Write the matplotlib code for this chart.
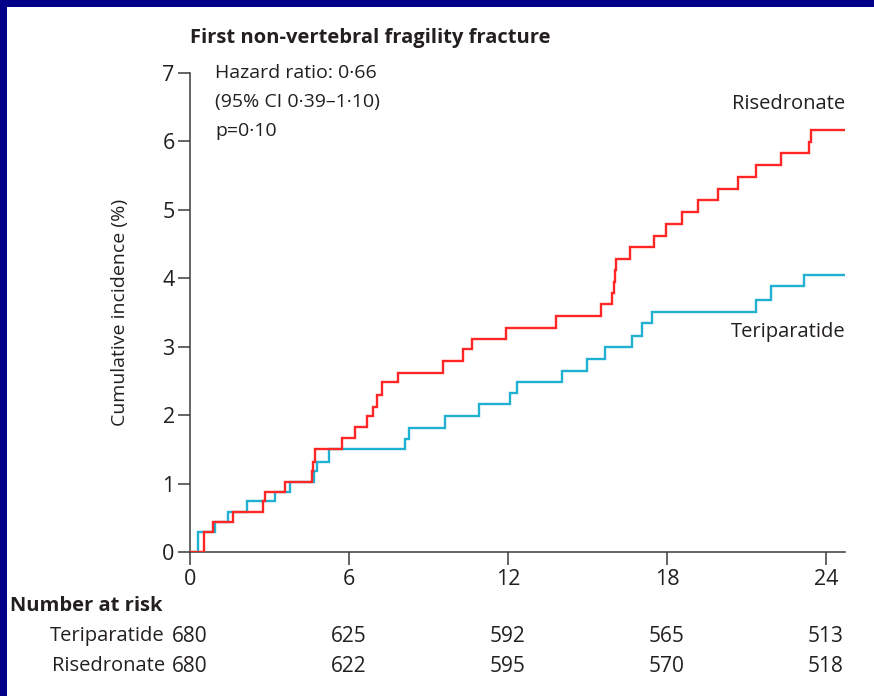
import matplotlib
matplotlib.use("Agg")
import matplotlib.pyplot as plt
from matplotlib.patches import Rectangle

# Kaplan-Meier style cumulative incidence (%) step data, months
teri_t = [0, 0.31, 0.94, 1.45, 2.14, 3.20, 3.77, 4.68, 4.78, 5.26, 8.11, 8.26,
          9.62, 10.92, 12.08, 12.35, 14.03, 15.00, 15.68, 16.67, 17.04, 17.45,
          21.36, 21.91, 23.18]
teri_y = [0, 0.29, 0.44, 0.59, 0.74, 0.88, 1.03, 1.18, 1.32, 1.50, 1.65, 1.81,
          1.99, 2.16, 2.33, 2.48, 2.65, 2.82, 2.99, 3.16, 3.34, 3.51,
          3.68, 3.88, 4.05]

rise_t = [0, 0.54, 0.88, 1.61, 2.74, 2.83, 3.58, 4.59, 4.66, 4.72, 5.72, 6.23,
          6.67, 6.92, 7.04, 7.23, 7.84, 9.56, 10.31, 10.63, 11.91, 13.81, 15.53,
          15.91, 16.00, 16.05, 16.08, 16.60, 17.51, 17.96, 18.55, 19.18, 19.94,
          20.69, 21.36, 22.29, 23.35, 23.42]
rise_y = [0, 0.29, 0.44, 0.59, 0.74, 0.88, 1.03, 1.18, 1.32, 1.50, 1.67, 1.82,
          1.99, 2.12, 2.30, 2.48, 2.62, 2.79, 2.96, 3.11, 3.28, 3.45, 3.63,
          3.79, 3.95, 4.12, 4.28, 4.45, 4.62, 4.80, 4.97, 5.14, 5.31,
          5.48, 5.65, 5.83, 5.99, 6.17]

x_end = 24.72
x_ticks = [0, 6, 12, 18, 24]
y_ticks = [0, 1, 2, 3, 4, 5, 6, 7]

risk_groups = ["Teriparatide", "Risedronate"]
risk_teri = [680, 625, 592, 565, 513]
risk_rise = [680, 622, 595, 570, 518]

title = "First non-vertebral fragility fracture"
stats_lines = ["Hazard ratio: 0\u00b766", "(95% CI 0\u00b739\u20131\u00b710)", "p=0\u00b710"]

RED = "#ff2626"
BLUE = "#1fb0d2"
INK = "#231f20"
NAVY = "#00008b"

plt.rcParams["font.family"] = ["Open Sans", "DejaVu Sans"]

W, H = 874, 696
fig = plt.figure(figsize=(W / 100, H / 100), dpi=100)
fig.patch.set_facecolor("white")

# navy frame along the top and left edges
fig.add_artist(Rectangle((0, 1 - 7 / H), 1, 7 / H, transform=fig.transFigure,
                         color=NAVY, lw=0, zorder=10))
fig.add_artist(Rectangle((0, 0), 7 / W, 1, transform=fig.transFigure,
                         color=NAVY, lw=0, zorder=10))

left, right, top, bottom = 190, 845, 73, 552
ax = fig.add_axes([left / W, 1 - bottom / H, (right - left) / W, (bottom - top) / H])

ax.step(teri_t + [x_end], teri_y + [teri_y[-1]], where="post", color=BLUE, lw=1.7,
        solid_joinstyle="miter", zorder=3)
ax.step(rise_t + [x_end], rise_y + [rise_y[-1]], where="post", color=RED, lw=1.7,
        solid_joinstyle="miter", zorder=4)

ax.set_xlim(0, x_end)
ax.set_ylim(0, 7)
ax.set_xticks(x_ticks)
ax.set_yticks(y_ticks)
for s in ["top", "right"]:
    ax.spines[s].set_visible(False)
for s in ["left", "bottom"]:
    ax.spines[s].set_color("#3a3a3a")
    ax.spines[s].set_linewidth(1.1)
ax.tick_params(axis="both", direction="out", length=9, width=1.1, color="#3a3a3a",
               labelsize=15.5, labelcolor=INK)
ax.tick_params(axis="y", pad=2)
ax.tick_params(axis="x", pad=3)
ax.set_ylabel("Cumulative incidence (%)", fontsize=14, color=INK, labelpad=24)

fig.text(190 / W, 1 - 38 / H, title, fontsize=14.5, fontweight="bold", color=INK,
         ha="left", va="center")
for i, line in enumerate(stats_lines):
    fig.text(215 / W, 1 - (73 + 29 * i) / H, line, fontsize=14, color=INK,
             ha="left", va="center")

ax.text(x_end, rise_y[-1] + 0.38, "Risedronate", fontsize=14.5, color=INK,
        ha="right", va="center")
ax.text(x_end, teri_y[-1] - 0.83, "Teriparatide", fontsize=14.5, color=INK,
        ha="right", va="center")

# number-at-risk table
fig.text(10 / W, 1 - 606 / H, "Number at risk", fontsize=14.5, fontweight="bold",
         color=INK, ha="left", va="center")
for row, (name, vals) in enumerate(zip(risk_groups, [risk_teri, risk_rise])):
    yy = 1 - (636 + 30 * row) / H
    fig.text(165 / W, yy, name, fontsize=14.5, color=INK, ha="right", va="center")
    for t, v in zip(x_ticks, vals):
        xf = ax.transData.transform((t, 0))[0] / W
        if t == 0:
            fig.text(172 / W, yy, str(v), fontsize=15, color=INK, ha="left", va="center")
        else:
            fig.text(xf, yy, str(v), fontsize=15, color=INK, ha="center", va="center")

fig.savefig("out.png", dpi=100)
